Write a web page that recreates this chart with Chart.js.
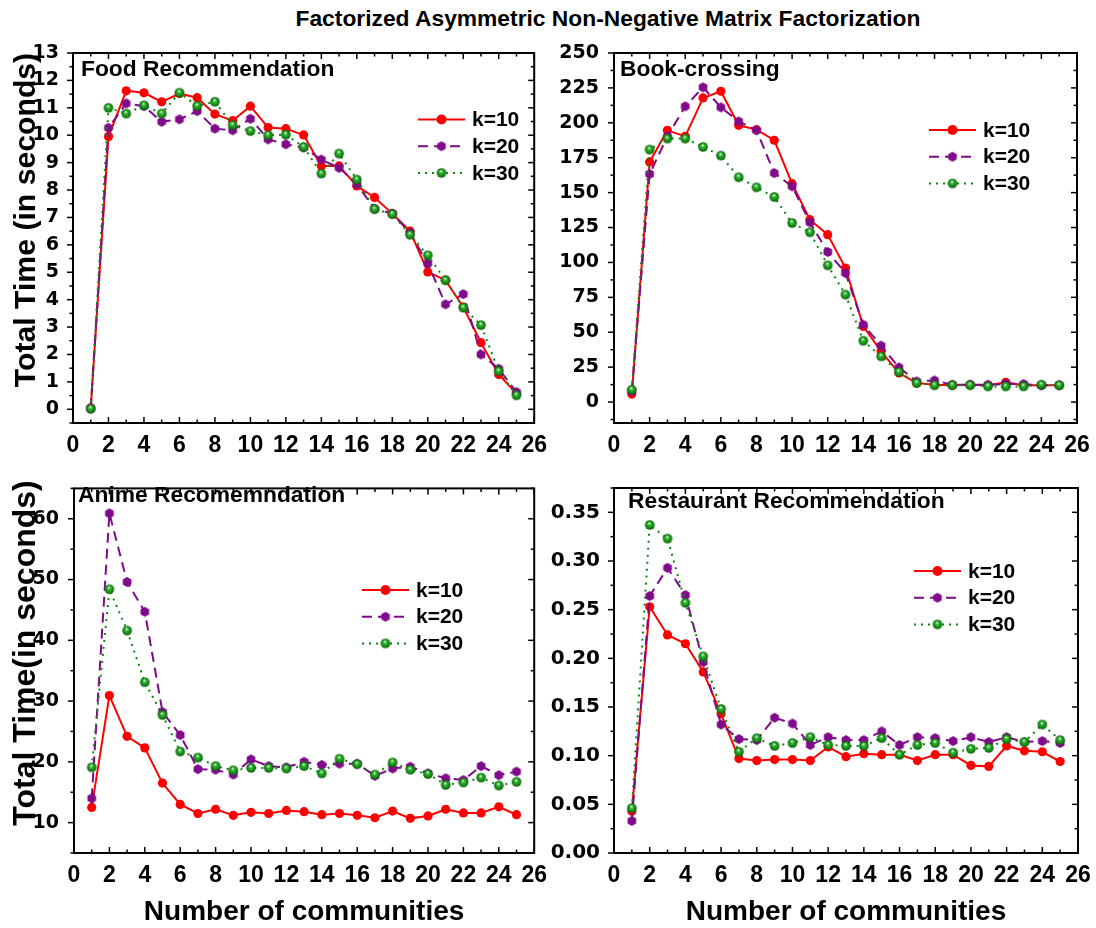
<!DOCTYPE html>
<html>
<head>
<meta charset="utf-8">
<script src="https://cdn.jsdelivr.net/npm/chart.js@4.4.1/dist/chart.umd.min.js"></script>
<style>
    html, body { margin: 0; padding: 0; background: #fff; }
    #page { position: relative; width: 1096px; height: 928px; overflow: hidden; }
    .box { position: absolute; }
    #title {
        position: absolute; left: 108px; width: 1000px; top: 5px;
        text-align: center; line-height: 1;
        font: bold 22.8px "Liberation Sans", Arial, sans-serif; color: #000;
    }
</style>
</head>
<body>
<div id="page">
    <div id="title">Factorized Asymmetric Non-Negative Matrix Factorization</div>
    <div class="box" style="left:0;top:0;width:548px;height:470px"><canvas id="food"></canvas></div>
    <div class="box" style="left:548px;top:0;width:548px;height:470px"><canvas id="book"></canvas></div>
    <div class="box" style="left:0;top:470px;width:548px;height:458px"><canvas id="anime"></canvas></div>
    <div class="box" style="left:548px;top:470px;width:548px;height:458px"><canvas id="rest"></canvas></div>
</div>
<script>
// number of communities (x values)
var communities = [1, 2, 3, 4, 5, 6, 7, 8, 9, 10, 11, 12, 13, 14, 15, 16, 17, 18, 19, 20, 21, 22, 23, 24, 25];
var seriesLabels = ['k=10', 'k=20', 'k=30'];

// Food Recommendation
var food10 = [0.05, 9.95, 11.62, 11.55, 11.22, 11.52, 11.37, 10.77, 10.53, 11.06, 10.28, 10.24, 10.01, 8.88, 8.88, 8.15, 7.73, 7.14, 6.50, 5.01, 4.71, 3.73, 2.43, 1.27, 0.57];
var food20 = [0.03, 10.27, 11.16, 11.06, 10.49, 10.58, 10.88, 10.24, 10.18, 10.60, 9.85, 9.67, 9.55, 9.11, 8.81, 8.21, 7.32, 7.14, 6.44, 5.32, 3.83, 4.20, 2.00, 1.48, 0.63];
var food30 = [0.02, 11.00, 10.79, 11.09, 10.79, 11.55, 11.07, 11.22, 10.37, 10.15, 10.00, 10.02, 9.57, 8.60, 9.33, 8.38, 7.30, 7.12, 6.37, 5.62, 4.71, 3.71, 3.07, 1.39, 0.51];

// Book-crossing
var book10 = [5.7, 172, 194.6, 190.3, 217.8, 222.6, 198.2, 195.1, 187.5, 156.4, 130.6, 119.9, 96, 54.2, 36.3, 20.8, 13.6, 12.4, 12, 12.4, 12, 14.1, 12, 12, 12];
var book20 = [7.6, 163.3, 190.3, 211.8, 225.4, 211.1, 201, 194.6, 164, 154.5, 128.7, 107.5, 92.4, 55.4, 40.4, 24.8, 14.8, 15.5, 12.4, 12.4, 12.4, 12.9, 12.9, 12, 12];
var book30 = [8.8, 180.8, 188.7, 188.7, 182.7, 176.5, 161, 153.8, 146.9, 128.2, 121.6, 97.9, 76.9, 43.9, 32.7, 21.5, 13.6, 12, 12, 12, 11.2, 11.2, 11.2, 12.4, 12];

// Anime Recommendation
var anime10 = [12.5, 30.9, 24.2, 22.3, 16.5, 13.0, 11.5, 12.2, 11.2, 11.7, 11.5, 12.0, 11.8, 11.3, 11.5, 11.2, 10.8, 11.9, 10.7, 11.1, 12.2, 11.6, 11.6, 12.6, 11.3];
var anime20 = [14.0, 60.9, 49.6, 44.7, 28.2, 24.4, 18.8, 18.7, 17.9, 20.4, 19.3, 19.1, 20.0, 19.5, 19.7, 19.7, 17.7, 18.9, 19.2, 18.1, 17.3, 17.0, 19.3, 17.8, 18.4];
var anime30 = [19.1, 48.4, 41.6, 33.1, 27.7, 21.7, 20.7, 19.3, 18.6, 19.0, 19.0, 18.9, 19.3, 18.1, 20.5, 19.6, 17.9, 19.9, 18.7, 18.0, 16.2, 16.6, 17.4, 16.1, 16.7];

// Restaurant Recommendation
var rest10 = [0.043, 0.253, 0.224, 0.215, 0.186, 0.143, 0.097, 0.095, 0.096, 0.096, 0.095, 0.109, 0.099, 0.102, 0.101, 0.101, 0.095, 0.101, 0.101, 0.090, 0.089, 0.110, 0.105, 0.104, 0.094];
var rest20 = [0.033, 0.264, 0.293, 0.265, 0.196, 0.132, 0.117, 0.116, 0.139, 0.133, 0.111, 0.119, 0.116, 0.116, 0.125, 0.111, 0.119, 0.118, 0.115, 0.119, 0.114, 0.119, 0.114, 0.115, 0.113];
var rest30 = [0.046, 0.337, 0.323, 0.257, 0.202, 0.148, 0.104, 0.118, 0.110, 0.113, 0.119, 0.111, 0.110, 0.110, 0.118, 0.101, 0.111, 0.113, 0.103, 0.107, 0.108, 0.117, 0.114, 0.132, 0.116];

// tick labels
var xTicks = [0, 2, 4, 6, 8, 10, 12, 14, 16, 18, 20, 22, 24, 26];
var foodTicks = [0, 1, 2, 3, 4, 5, 6, 7, 8, 9, 10, 11, 12, 13];
var bookTicks = [0, 25, 50, 75, 100, 125, 150, 175, 200, 225, 250];
var animeTicks = [10, 20, 30, 40, 50, 60];
var restTicks = [0, 0.05, 0.10, 0.15, 0.20, 0.25, 0.30, 0.35];

var RED = '#ff0000', PURPLE = '#7f0a8a', GREEN = '#0a8a0a';
var lineColors = [RED, PURPLE, GREEN];
var dashes = [[], [10, 6], [2, 5]];
var SANS = '"Liberation Sans", Arial, sans-serif';

function hexagon(r, color) {
    var c = document.createElement('canvas');
    var s = Math.ceil(r * 2 + 2);
    c.width = c.height = s;
    var g = c.getContext('2d');
    g.fillStyle = color;
    g.beginPath();
    for (var i = 0; i < 6; i++) {
        var a = Math.PI / 6 + i * Math.PI / 3;
        var px = s / 2 + r * Math.cos(a), py = s / 2 + r * Math.sin(a);
        if (i === 0) g.moveTo(px, py); else g.lineTo(px, py);
    }
    g.closePath();
    g.fill();
    return c;
}

function ball(r) {
    var c = document.createElement('canvas');
    var s = Math.ceil(r * 2 + 2);
    c.width = c.height = s;
    var g = c.getContext('2d');
    var grad = g.createRadialGradient(s / 2 - 0.5, s / 2 - 1.8, 0.3, s / 2, s / 2, r);
    grad.addColorStop(0, '#e8ffe8');
    grad.addColorStop(0.28, '#3cb43c');
    grad.addColorStop(0.7, '#128c12');
    grad.addColorStop(1, '#0a5e0a');
    g.fillStyle = grad;
    g.beginPath();
    g.arc(s / 2, s / 2, r, 0, Math.PI * 2);
    g.fill();
    return c;
}

var markers = ['circle', hexagon(5, PURPLE), ball(4.8)];

function line(ctx, x1, y1, x2, y2) {
    ctx.beginPath();
    ctx.moveTo(x1, y1);
    ctx.lineTo(x2, y2);
    ctx.stroke();
}

function isMajor(v, step) {
    var q = v / step;
    return Math.abs(q - Math.round(q)) < 1e-6;
}

// box, inward/outward tick marks, panel label, legend and y title
var frame = {
    id: 'frame',
    afterDatasetsDraw: function (chart, args, o) {
        var ctx = chart.ctx, a = chart.chartArea;
        var xs = chart.scales.x, ys = chart.scales.y;
        ctx.save();
        ctx.strokeStyle = '#000';
        ctx.lineWidth = 1.5;

        var k, v, p, len;
        for (k = Math.ceil(xs.min / o.xMinor - 1e-9); k * o.xMinor <= xs.max + 1e-9; k++) {
            v = k * o.xMinor;
            p = xs.getPixelForValue(v);
            len = isMajor(v, o.xMajor) ? 6 : 3.5;
            line(ctx, p, a.bottom, p, a.bottom - len);
            line(ctx, p, a.top, p, a.top + len);
        }
        for (k = Math.ceil(ys.min / o.yMinor - 1e-9); k * o.yMinor <= ys.max + 1e-9; k++) {
            v = k * o.yMinor;
            p = ys.getPixelForValue(v);
            len = isMajor(v, o.yMajor) ? 6 : 3.5;
            line(ctx, a.left, p, a.left - len, p);
            line(ctx, a.right, p, a.right - len, p);
        }
        ctx.lineWidth = 2;
        ctx.strokeRect(a.left, a.top, a.right - a.left, a.bottom - a.top);

        ctx.fillStyle = '#000';
        ctx.font = 'bold 22.8px ' + SANS;
        ctx.textAlign = 'left';
        ctx.textBaseline = 'alphabetic';
        ctx.fillText(o.label, o.labelX, o.labelY);

        // legend
        chart.data.datasets.forEach(function (ds, i) {
            var y = o.legY + i * 26.7;
            ctx.strokeStyle = ds.borderColor;
            ctx.lineWidth = 2;
            ctx.setLineDash(ds.borderDash);
            line(ctx, o.legX, y, o.legX + 47, y);
            ctx.setLineDash([]);
            var mx = o.legX + 23.5;
            if (ds.pointStyle === 'circle') {
                ctx.fillStyle = ds.pointBackgroundColor;
                ctx.beginPath();
                ctx.arc(mx, y, 5, 0, Math.PI * 2);
                ctx.fill();
            } else {
                var img = ds.pointStyle;
                ctx.drawImage(img, mx - img.width / 2, y - img.height / 2);
            }
            ctx.fillStyle = '#000';
            ctx.font = 'bold 21px ' + SANS;
            ctx.textBaseline = 'middle';
            ctx.fillText(ds.label, o.legX + 54, y + 1);
        });

        if (o.yTitle) {
            ctx.translate(o.yTitleX, o.yTitleY);
            ctx.rotate(-Math.PI / 2);
            ctx.textAlign = 'center';
            ctx.textBaseline = 'alphabetic';
            ctx.font = 'bold ' + o.yTitleSize + 'px ' + SANS;
            ctx.fillText(o.yTitle, 0, 0);
        }
        ctx.restore();
    }
};

function panel(id, series, cfg) {
    var datasets = series.map(function (s, i) {
        return {
            label: seriesLabels[i],
            data: communities.map(function (c, j) { return { x: c, y: s[j] }; }),
            borderColor: lineColors[i],
            borderWidth: 2,
            borderDash: dashes[i],
            pointStyle: markers[i],
            pointRadius: 4.6,
            pointBackgroundColor: lineColors[i],
            pointBorderColor: lineColors[i],
            pointBorderWidth: 0,
            tension: 0,
            fill: false,
            clip: false,
            order: 2 - i
        };
    });

    var tickList = cfg.yTicks;
    new Chart(document.getElementById(id), {
        type: 'line',
        data: { datasets: datasets },
        options: {
            responsive: true,
            maintainAspectRatio: false,
            animation: false,
            layout: { padding: cfg.pad },
            plugins: { legend: { display: false }, tooltip: { enabled: false }, frame: cfg.frame },
            scales: {
                x: {
                    type: 'linear', min: 0, max: 26,
                    grid: { display: false }, border: { display: false },
                    afterBuildTicks: function (s) { s.ticks = xTicks.map(function (v) { return { value: v }; }); },
                    afterFit: function (s) { s.height = cfg.xh; },
                    ticks: {
                        color: '#000', padding: 1, maxRotation: 0, autoSkip: false,
                        font: { family: SANS, weight: 'bold', size: 23 }
                    },
                    title: cfg.xTitle ? {
                        display: true, text: 'Number of communities', color: '#000',
                        padding: { top: 0, bottom: 2 },
                        font: { family: SANS, weight: 'bold', size: 28, lineHeight: 1 }
                    } : { display: false }
                },
                y: {
                    type: 'linear', min: cfg.yMin, max: cfg.yMax,
                    grid: { display: false }, border: { display: false },
                    afterBuildTicks: function (s) { s.ticks = tickList.map(function (v) { return { value: v }; }); },
                    afterFit: function (s) { s.width = cfg.yw; },
                    ticks: {
                        color: '#000', padding: cfg.yPad,
                        font: { family: '"DejaVu Sans", sans-serif', weight: 'bold', size: cfg.yFont },
                        callback: cfg.yFmt || function (v) { return String(v); }
                    }
                }
            }
        },
        plugins: [frame]
    });
}

panel('food', [food10, food20, food30], {
    yMin: -0.5, yMax: 13, yTicks: foodTicks, yw: 73, xh: 47, yPad: 6, yFont: 19,
    pad: { top: 53, right: 9, left: 0, bottom: 0 },
    frame: {
        xMinor: 1, xMajor: 2, yMinor: 0.5, yMajor: 1,
        label: 'Food Recommendation', labelX: 81, labelY: 76,
        legX: 418, legY: 119.5,
        yTitle: 'Total Time (in seconds)', yTitleX: 35, yTitleY: 220, yTitleSize: 30.2
    }
});

panel('book', [book10, book20, book30], {
    yMin: -15, yMax: 250, yTicks: bookTicks, yw: 66, xh: 47, yPad: 7, yFont: 19,
    pad: { top: 53, right: 19, left: 0, bottom: 0 },
    frame: {
        xMinor: 1, xMajor: 2, yMinor: 12.5, yMajor: 25,
        label: 'Book-crossing', labelX: 72, labelY: 76,
        legX: 381, legY: 130
    }
});

panel('anime', [anime10, anime20, anime30], {
    yMin: 5, yMax: 65, yTicks: animeTicks, yw: 74, xh: 75, yPad: 7, yFont: 19, xTitle: true,
    pad: { top: 13, right: 9, left: 0, bottom: 0 },
    frame: {
        xMinor: 1, xMajor: 2, yMinor: 5, yMajor: 10,
        label: 'Anime Recomemndation', labelX: 78, labelY: 31.7,
        legX: 362, legY: 120,
        yTitle: 'Total Time(in seconds)', yTitleX: 35, yTitleY: 183, yTitleSize: 32
    }
});

panel('rest', [rest10, rest20, rest30], {
    yMin: 0, yMax: 0.375, yTicks: restTicks, yw: 66, xh: 75, yPad: 6, yFont: 20, xTitle: true,
    yFmt: function (v) { return v.toFixed(2); },
    pad: { top: 14, right: 18, left: 0, bottom: 0 },
    frame: {
        xMinor: 1, xMajor: 2, yMinor: 0.025, yMajor: 0.05,
        label: 'Restaurant Recommendation', labelX: 80, labelY: 37.7,
        legX: 366, legY: 101
    }
});
</script>
</body>
</html>
